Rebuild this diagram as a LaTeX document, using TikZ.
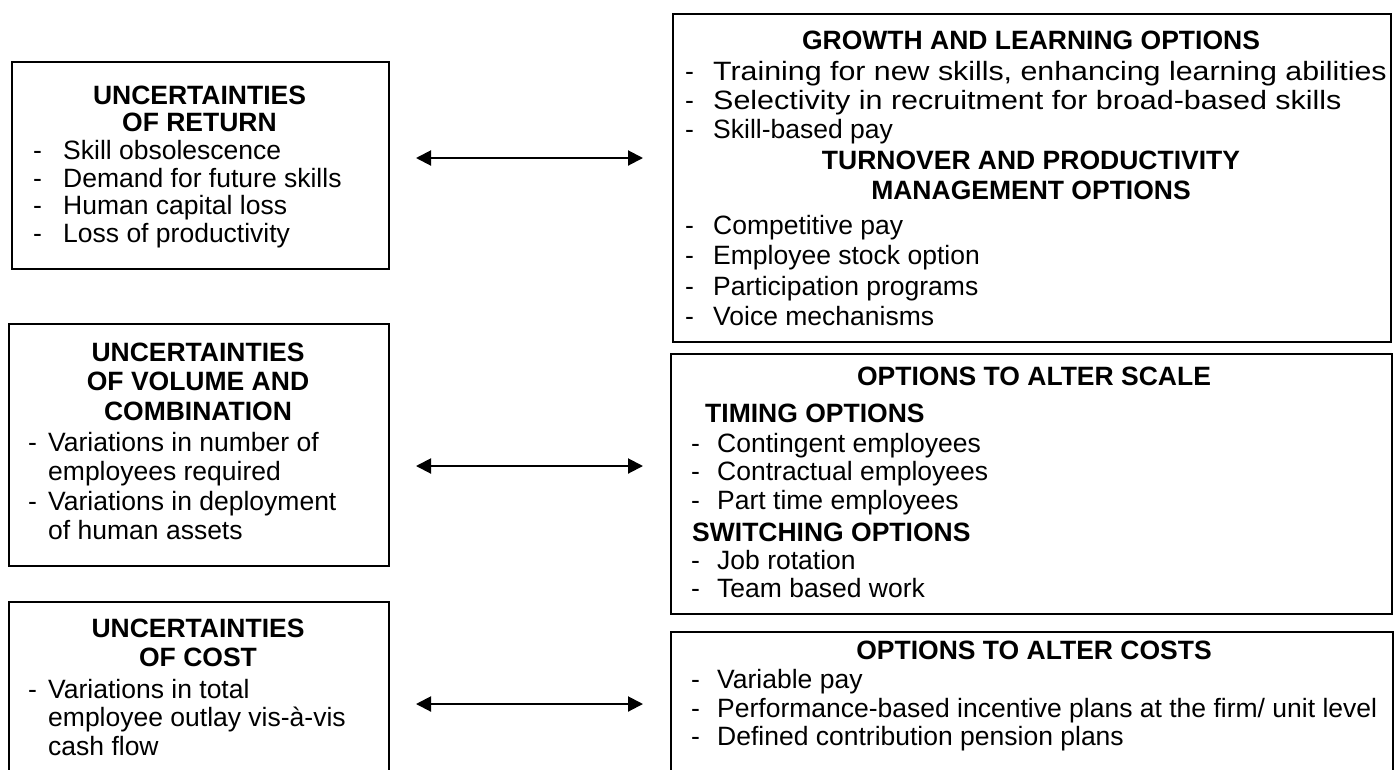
\documentclass[tikz,border=0pt]{standalone}
\usepackage{fontspec}
\setmainfont{Liberation Sans}
\usetikzlibrary{arrows.meta}
\begin{document}
\begin{tikzpicture}[x=1pt,y=-1pt,
  box/.style={draw,line width=1.6pt,inner sep=0pt,anchor=north west},
  ttl/.style={font=\bfseries\fontsize{26.5}{29}\selectfont,inner sep=0pt,anchor=base},
  hd/.style={font=\bfseries\fontsize{26.5}{29}\selectfont,inner sep=0pt,anchor=base west},
  txt/.style={font=\fontsize{26.5}{29}\selectfont,inner sep=0pt,anchor=base west},
  biarrow/.style={{Triangle[length=15pt,width=15pt]}-{Triangle[length=15pt,width=15pt]},line width=2pt}]
\useasboundingbox (0,0) rectangle (1396,769);
\clip (0,0) rectangle (1396,769);
% boxes
\node[box,minimum width=377pt,minimum height=207pt] (L1) at (11,61) {};
\node[box,minimum width=380pt,minimum height=242pt] (L2) at (8,323) {};
\node[box,minimum width=380pt,minimum height=200pt] (L3) at (8,601) {};
\node[box,minimum width=718pt,minimum height=328pt] (R1) at (672,13) {};
\node[box,minimum width=721pt,minimum height=260pt] (R2) at (670,353) {};
\node[box,minimum width=722pt,minimum height=200pt] (R3) at (670,631) {};
% left box 1
\node[ttl] (L1h1) at (199.5,104) {UNCERTAINTIES};
\node[ttl] (L1h2) at (199.5,131) {OF RETURN};
\foreach \y/\t [count=\i] in {159/Skill obsolescence,187/Demand for future skills,214/Human capital loss,242/Loss of productivity}{
  \node[txt] (L1d\i) at (33,\y) {-};
  \node[txt] (L1b\i) at (63,\y) {\t};
}
% left box 2
\node[ttl] (L2h1) at (198,361) {UNCERTAINTIES};
\node[ttl] (L2h2) at (198,390) {OF VOLUME AND};
\node[ttl] (L2h3) at (198,420) {COMBINATION};
\node[txt] (L2d1) at (28,451) {-};
\node[txt] (L2b1) at (48,451) {Variations in number of};
\node[txt] (L2b2) at (48,480) {employees required};
\node[txt] (L2d3) at (28,510) {-};
\node[txt] (L2b3) at (48,510) {Variations in deployment};
\node[txt] (L2b4) at (48,539) {of human assets};
% left box 3
\node[ttl] (L3h1) at (198,637) {UNCERTAINTIES};
\node[ttl] (L3h2) at (198,666) {OF COST};
\node[txt] (L3d1) at (28,698) {-};
\node[txt] (L3b1) at (48,698) {Variations in total};
\node[txt] (L3b2) at (48,726) {employee outlay vis-à-vis};
\node[txt] (L3b3) at (48,755) {cash flow};
% right box 1
\node[ttl] (R1h1) at (1031,49.5) {GROWTH AND LEARNING OPTIONS};
\node[txt] (R1d1) at (685,80.5) {-};
\node[txt] (R1b1) at (713,80.5) {\scalebox{1.145}[1]{Training for new skills, enhancing learning abilities}};
\node[txt] (R1d2) at (685,109.5) {-};
\node[txt] (R1b2) at (713,109.5) {\scalebox{1.15}[1]{Selectivity in recruitment for broad-based skills}};
\node[txt] (R1d3) at (685,138.5) {-};
\node[txt] (R1b3) at (713,138.5) {Skill-based pay};
\node[ttl] (R1h2) at (1031,169.5) {TURNOVER AND PRODUCTIVITY};
\node[ttl] (R1h3) at (1031,199.5) {MANAGEMENT OPTIONS};
\foreach \y/\t [count=\i] in {234.5/{Competitive pay},264.5/{Employee stock option},295.5/{Participation programs},325.5/{Voice mechanisms}}{
  \node[txt] (R1e\i) at (685,\y) {-};
  \node[txt] (R1c\i) at (713,\y) {\t};
}
% right box 2
\node[ttl] (R2h1) at (1034,385.5) {OPTIONS TO ALTER SCALE};
\node[hd] (R2h2) at (705,422.5) {TIMING OPTIONS};
\foreach \y/\t [count=\i] in {452.5/{Contingent employees},480.5/{Contractual employees},509.5/{Part time employees}}{
  \node[txt] (R2d\i) at (691,\y) {-};
  \node[txt] (R2b\i) at (717,\y) {\t};
}
\node[hd] (R2h3) at (692,541.5) {SWITCHING OPTIONS};
\foreach \y/\t [count=\i] in {569.5/{Job rotation},597.5/{Team based work}}{
  \node[txt] (R2e\i) at (691,\y) {-};
  \node[txt] (R2c\i) at (717,\y) {\t};
}
% right box 3
\node[ttl] (R3h1) at (1034,659.5) {OPTIONS TO ALTER COSTS};
\node[txt] (R3d1) at (691,688.5) {-};
\node[txt] (R3b1) at (717,688.5) {Variable pay};
\node[txt] (R3d2) at (691,717.5) {-};
\node[txt] (R3b2) at (717,717.5) {Performance-based incentive plans at the firm/ unit level};
\node[txt] (R3d3) at (691,745.5) {-};
\node[txt] (R3b3) at (717,745.5) {Defined contribution pension plans};
% arrows
\coordinate (a1l) at (416,158); \coordinate (a1r) at (643,158);
\coordinate (a2l) at (416,466); \coordinate (a2r) at (643,466);
\coordinate (a3l) at (416,704); \coordinate (a3r) at (643,704);
\draw[biarrow] (a1l) -- (a1r);
\draw[biarrow] (a2l) -- (a2r);
\draw[biarrow] (a3l) -- (a3r);
\end{tikzpicture}
\end{document}
